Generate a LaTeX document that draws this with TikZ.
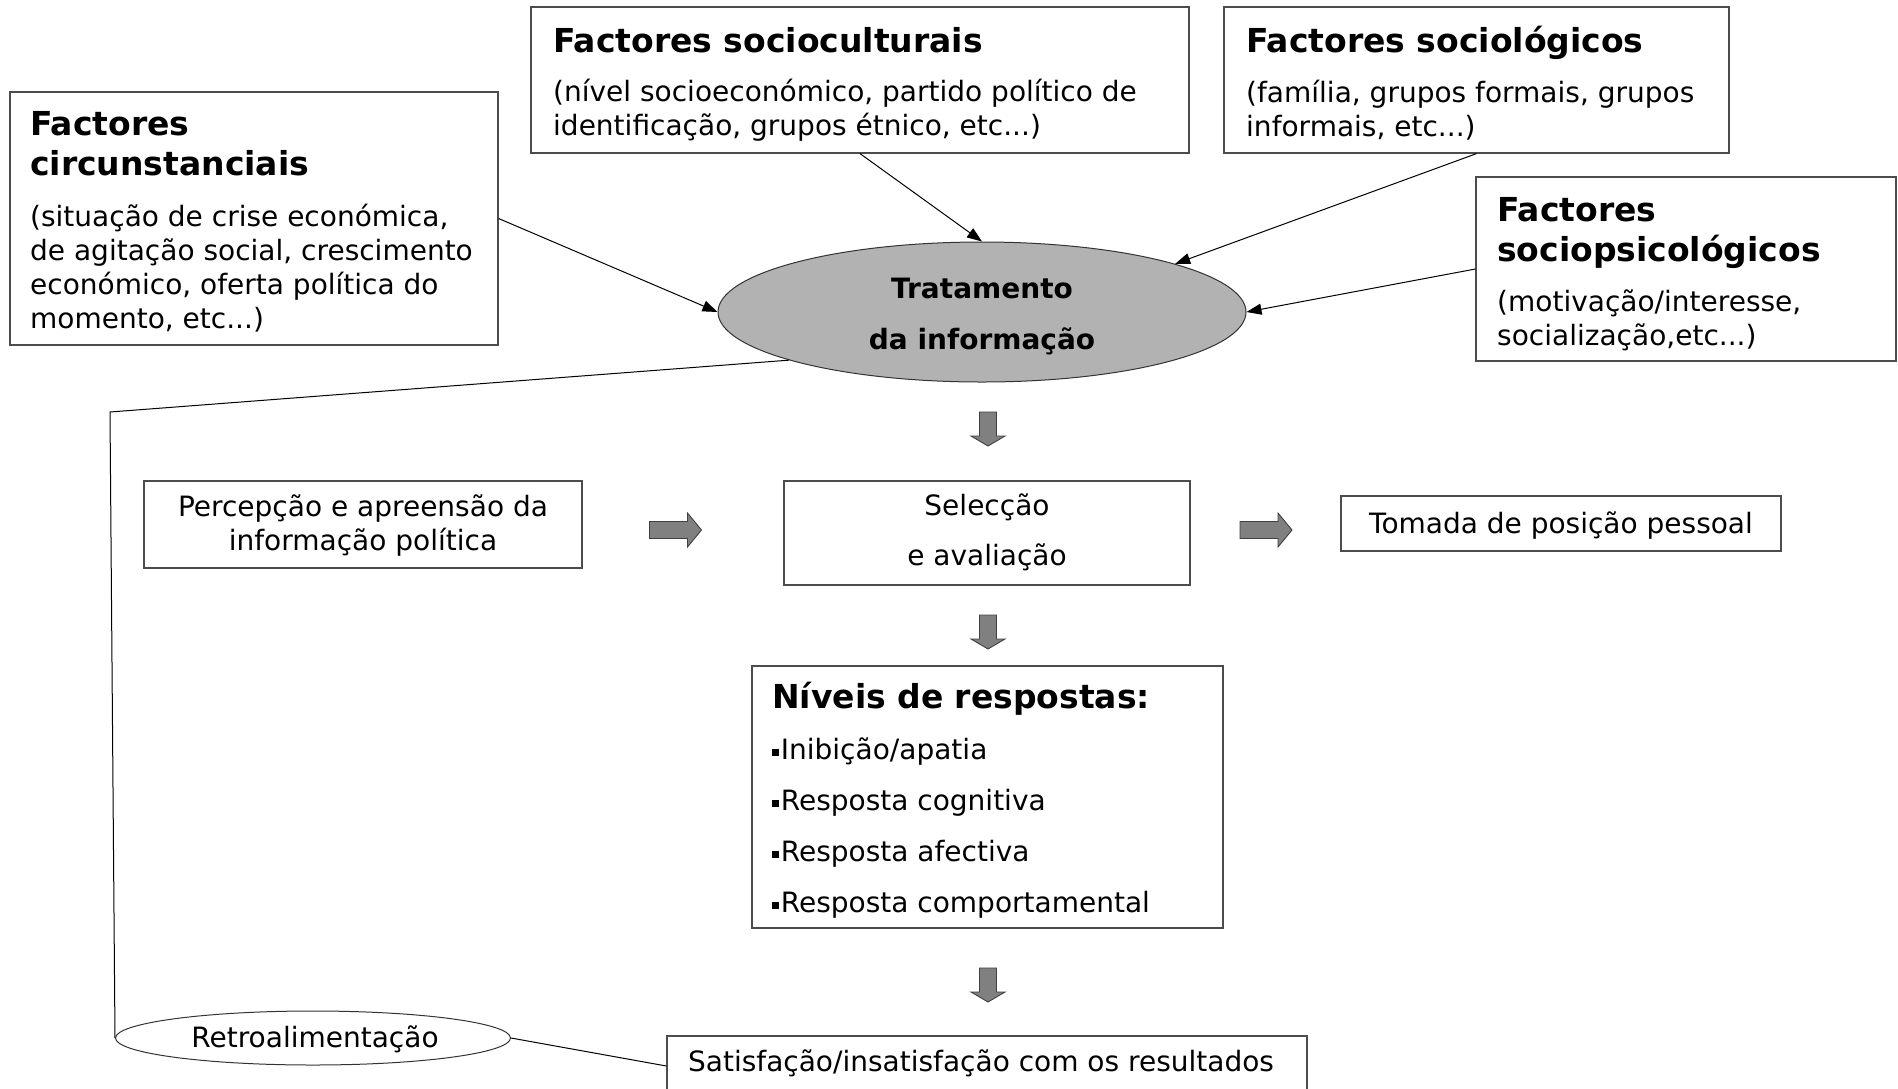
\documentclass[tikz,border=0pt]{standalone}
\usepackage{fontspec}
\setmainfont{DejaVu Sans}
\usetikzlibrary{shapes.geometric,arrows.meta}
\newcommand{\bsq}{\rule[0.15em]{0.25em}{0.25em}\hspace{0.06em}}
\begin{document}
\begin{tikzpicture}[x=1pt,y=-1pt,
 box/.style={draw=black!70, line width=1.2pt, inner sep=0pt},
 ttl/.style={font=\fontsize{33}{40}\selectfont\bfseries, anchor=west, align=left, inner sep=0pt},
 body/.style={font=\fontsize{28}{34}\selectfont, anchor=west, align=left, inner sep=0pt},
 ctext/.style={font=\fontsize{28}{50}\selectfont, align=center, inner sep=0pt},
 con/.style={line width=1pt, -{Triangle[length=15pt,width=11pt]}},
 plainline/.style={line width=1pt},
 blkarr/.style={draw=black!75, fill=black!50, line width=0.9pt, line join=miter},
 pics/downblk/.style={code={
   \filldraw[blkarr] (-8.5,-17) -- (8.5,-17) -- (8.5,7) -- (17,7) -- (0,17) -- (-17,7) -- (-8.5,7) -- cycle;}},
 pics/rightblk/.style={code={
   \filldraw[blkarr] (-26,-8.5) -- (12,-8.5) -- (12,-17) -- (26,0) -- (12,17) -- (12,8.5) -- (-26,8.5) -- cycle;}}
]
\useasboundingbox (0,0) rectangle (1898,1088);

% boxes
\node[box, minimum width=488pt, minimum height=253pt] (circ) at (254,218.5) {};
\node[box, minimum width=658pt, minimum height=146pt] (scult) at (860,80) {};
\node[box, minimum width=505pt, minimum height=146pt] (slog) at (1476.5,80) {};
\node[box, minimum width=420pt, minimum height=184pt] (spsi) at (1686,269) {};

% texts of boxes
\node[ttl] (circt) at (30,144) {Factores\\circunstanciais};
\node[body] (circb) at (30,268) {(situação de crise económica,\\de agitação social, crescimento\\económico, oferta política do\\momento, etc...)};
\node[ttl] (scultt) at (553,40) {Factores socioculturais};
\node[body] (scultb) at (553,110) {(nível socioeconómico, partido político de\\identificação, grupos étnico, etc...)};
\node[ttl] (slogt) at (1246,42.5) {Factores sociológicos};
\node[body] (slogb) at (1246,110) {(família, grupos formais, grupos\\informais, etc...)};
\node[ttl] (spsit) at (1497,233) {Factores\\sociopsicológicos};
\node[body] (spsib) at (1497,320) {(motivação/interesse,\\socialização,etc...)};

% central ellipse
\node[ellipse, draw=black!80, line width=1pt, fill=black!30, minimum width=528pt, minimum height=140pt, inner sep=0pt] (trat) at (982,312) {};
\node[font=\fontsize{28}{51}\selectfont\bfseries, align=center, inner sep=0pt] (tratt) at (982,317) {Tratamento\\da informação};

% connectors into ellipse
\draw[con] (circ.east) -- (trat.west);
\draw[con] (scult.south) -- (trat.north);
\draw[con] (slog.south) -- (trat.14.5);
\draw[con] (spsi.west) -- (trat.east);

% middle row
\node[box, minimum width=438pt, minimum height=87pt] (perc) at (363,524.5) {};
\node[ctext, font=\fontsize{28}{34}\selectfont] (perct) at (363,525.5) {Percepção e apreensão da\\informação política};
\node[box, minimum width=406pt, minimum height=104pt] (sel) at (987,533) {};
\node[ctext] (selt) at (987,532.5) {Selecção\\e avaliação};
\node[box, minimum width=440pt, minimum height=55pt] (tom) at (1561,523.5) {};
\node[ctext] (tomt) at (1561,525.5) {Tomada de posição pessoal};

\pic (d1) at (988,429) {downblk};
\pic (r1) at (675.5,530) {rightblk};
\pic (r2) at (1266,530) {rightblk};
\pic (d2) at (988,632) {downblk};

% responses
\node[box, minimum width=471pt, minimum height=262pt] (niv) at (987.5,797) {};
\node[font=\fontsize{33}{40}\selectfont\bfseries, anchor=west, inner sep=0pt] (nivt) at (772,698.5) {Níveis de respostas:};
\node[font=\fontsize{28}{51}\selectfont, anchor=west, align=left, inner sep=0pt] (nivb) at (772,828.5) {\bsq Inibição/apatia\\\bsq Resposta cognitiva\\\bsq Resposta afectiva\\\bsq Resposta comportamental};

\pic (d3) at (988,985) {downblk};

% bottom
\node[ellipse, draw=black!80, line width=1pt, minimum width=395pt, minimum height=54pt, inner sep=0pt] (retro) at (313,1038) {};
\node[ctext] (retrot) at (315,1039.5) {Retroalimentação};
\node[box, minimum width=640pt, minimum height=60pt] (sat) at (987,1066) {};
\node[ctext] (satt) at (981,1063.5) {Satisfação/insatisfação com os resultados};

\coordinate (fb) at (110,412);
\draw[plainline] (trat.194) -- (fb) -- (retro.west);
\draw[plainline] (retro.east) -- (sat.west);
\end{tikzpicture}
\end{document}
